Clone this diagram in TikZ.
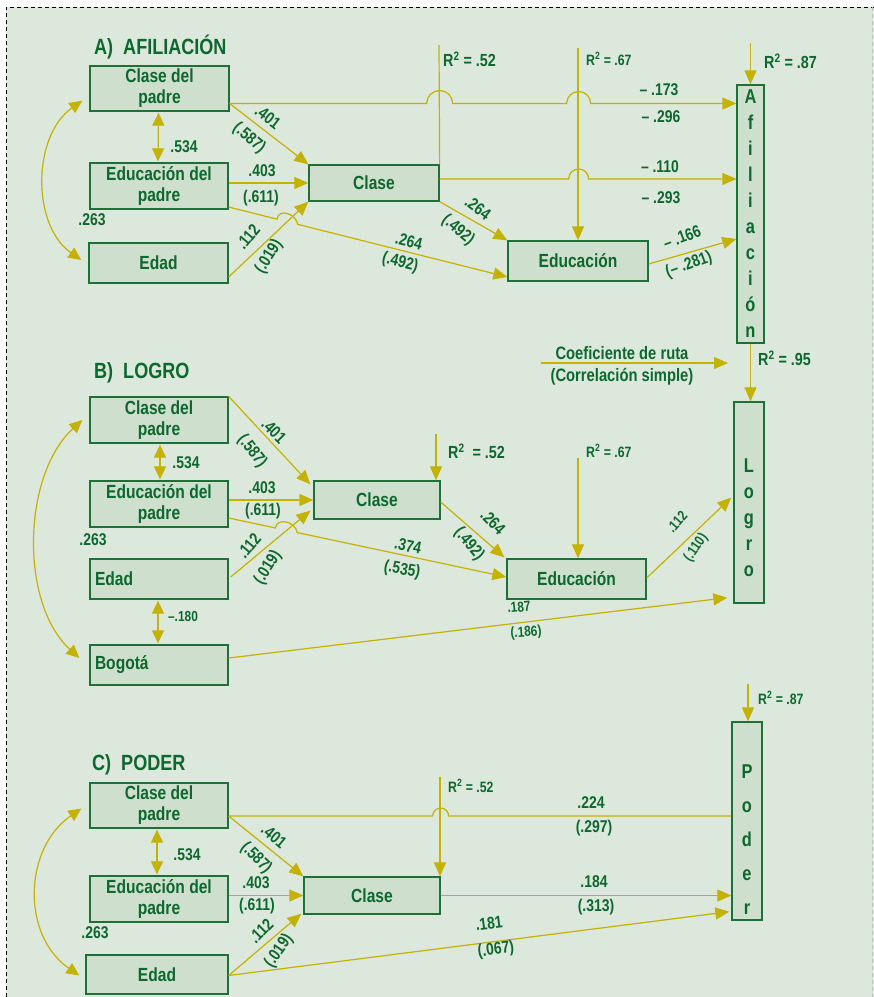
\documentclass[tikz,border=0pt]{standalone}
\usepackage{fontspec}
\setmainfont{Liberation Sans}[FakeStretch=0.82]
\usetikzlibrary{arrows.meta,calc}

\definecolor{bgpanel}{RGB}{221,232,220}
\definecolor{boxfill}{RGB}{207,223,206}
\definecolor{boxline}{RGB}{28,112,56}
\definecolor{txtgreen}{RGB}{12,104,46}
\definecolor{arrowyel}{RGB}{196,178,0}

\newcommand{\boxtxt}{\bfseries\fontsize{19}{21}\selectfont}
\newcommand{\numtxt}{\bfseries\fontsize{17}{18}\selectfont}
\newcommand{\smalltxt}{\bfseries\fontsize{14.5}{16}\selectfont}
\newcommand{\titletxt}{\bfseries\fontsize{22}{24}\selectfont}
\newcommand{\verttxt}{\bfseries\fontsize{20}{26}\selectfont}
\newcommand{\vertwide}{\bfseries\fontsize{20}{34}\selectfont}
\newcommand{\rsqtxt}{\bfseries\fontsize{17.5}{19}\selectfont}
\newcommand{\rsqsmall}{\bfseries\fontsize{15}{16}\selectfont}
\newcommand{\legtxt}{\bfseries\fontsize{18}{19}\selectfont}

\begin{document}
\begin{tikzpicture}[
    x=1pt, y=-1pt,
    box/.style={draw=boxline, fill=boxfill, line width=1.3pt, text=txtgreen, font=\boxtxt, align=center, inner sep=0pt},
    vbox/.style={box, font=\verttxt},
    lbl/.style={text=txtgreen, font=\numtxt, inner sep=0pt},
    slbl/.style={lbl, font=\smalltxt},
    ttl/.style={text=txtgreen, font=\titletxt, anchor=west, inner sep=0pt},
    rsq/.style={lbl, anchor=west},
    link/.style={draw=arrowyel, line width=1.2pt},
    arr/.style={link, -{Triangle[length=14pt,width=12pt]}},
    darr/.style={link, {Triangle[length=13pt,width=12pt]}-{Triangle[length=13pt,width=12pt]}},
  ]
    \useasboundingbox (0,0) rectangle (874,997);
    \fill[bgpanel] (6,7) rectangle (874,997);
    \draw[black, line width=0.8pt, dash pattern=on 4pt off 3pt] (6,997) -- (6,7) -- (874,7);
    \draw[gray!50, line width=0.8pt, dash pattern=on 4pt off 3pt] (872,7) -- (872,997);

    % A) Afiliacion
    \node[ttl] (ta) at (94,47) {A)\ \ AFILIACIÓN};
    \node[box, minimum width=139pt, minimum height=45pt] (acp) at (159.5,88.5) {Clase del\\padre};
    \node[box, minimum width=138pt, minimum height=46pt] (aep) at (159,186) {Educación del\\padre};
    \node[box, minimum width=139pt, minimum height=40pt] (aed) at (158.5,263) {Edad};
    \node[box, minimum width=130pt, minimum height=36pt] (acl) at (374,183) {Clase};
    \node[box, minimum width=140pt, minimum height=40pt] (aeu) at (578,261) {Educación};
    \node[vbox, minimum width=27pt, minimum height=258pt] (aaf) at (750.5,214) {A\\f\\i\\l\\i\\a\\c\\i\\ó\\n};

    \coordinate (a1) at ($(acp.east)+(0,15)$);
    \coordinate (a2) at ($(acl.east)+(0,-4)$);
    \coordinate (a3) at ($(aep.east)+(0,21)$);
    \coordinate (a4) at ($(aeu.west)+(0,16)$);
    \coordinate (ra1) at (439,45);
    \coordinate (ra2) at (578,48);
    \coordinate (ra3) at (750.5,43);
    \draw[link] (ra1) -- (acl.north east);
    \draw[arr] (ra2) -- (aeu.north);
    \draw[arr] (ra3) -- (aaf.north);
    \draw[arr] (a1) -- ++(197,0) arc[start angle=180,end angle=360,radius=13] -- ++(114,0) arc[start angle=180,end angle=360,radius=12] -- (a1 -| aaf.west);
    \draw[arr] (a2) -- ++(129,0) arc[start angle=180,end angle=360,radius=10] -- (a2 -| aaf.west);
    \draw[arr] (a1) -- (acl.north west);
    \draw[arr] (aep.east |- acl.west) -- (acl.west);
    \draw[arr] ($(aed.east)+(0,14)$) -- (acl.south west);
    \draw[arr] (a3) -- ($(a3)!.173!(a4)$) .. controls +(2,-11) and +(-2,-11) .. ($(a3)!.248!(a4)$) -- (a4);
    \draw[arr] (acl.south east) -- (aeu.north west);
    \draw[arr] ($(aeu.east)+(0,3)$) -- ($(aaf.west)+(0,25)$);
    \draw[darr] ($(acp.south)+(-1,1)$) -- ($(aep.north)+(-1,-1)$);
    \draw[darr] ($(acp.south west)+(-7,-11)$) .. controls +(-50,35) and +(-50,-35) .. ($(aed.west)+(-7,-3)$);

    \node[lbl, rotate=-38] (a401) at (268,117) {.401};
    \node[lbl, rotate=-40] (a587) at (249,138) {(.587)};
    \node[lbl] (a534) at (184,147) {.534};
    \node[lbl] (a403) at (262,171) {.403};
    \node[lbl] (a611) at (261,198) {(.611)};
    \node[lbl] (a263) at (92,220) {.263};
    \node[lbl, rotate=50] (a112) at (248,237) {.112};
    \node[lbl, rotate=58] (a019) at (269,257) {(.019)};
    \node[lbl, rotate=-14] (a264) at (409,241) {.264};
    \node[lbl, rotate=-14] (a492) at (400,263) {(.492)};
    \node[lbl, rotate=-37] (a264b) at (478,208) {.264};
    \node[lbl, rotate=-40] (a492b) at (458,230) {(.492)};
    \node[lbl] (a173) at (659,90) {– .173};
    \node[lbl] (a296) at (661,117) {– .296};
    \node[lbl] (a110) at (660,167) {– .110};
    \node[lbl] (a293) at (661,198) {– .293};
    \node[lbl, rotate=20] (a166) at (682,237) {– .166};
    \node[lbl, rotate=20] (a281) at (689,265) {(– .281)};
    \node[rsq, font=\rsqtxt] (ar52) at (443,59) {R\textsuperscript{2} = .52};
    \node[rsq, font=\rsqsmall] (ar67) at (586,59) {R\textsuperscript{2} = .67};
    \node[rsq, font=\rsqtxt] (ar87) at (764,61) {R\textsuperscript{2} = .87};

    \coordinate (lg1) at (541,363);
    \coordinate (lg2) at (728,363);
    \draw[arr] (lg1) -- (lg2);
    \node[lbl, font=\legtxt] (lgt) at (622,353) {Coeficiente de ruta};
    \node[lbl, font=\legtxt] (lgb) at (622,377) {(Correlación simple)};

    % B) Logro
    \node[ttl] (tb) at (94,373) {B)\ \ LOGRO};
    \node[box, minimum width=138pt, minimum height=46pt] (bcp) at (159,420) {Clase del\\padre};
    \node[box, minimum width=138pt, minimum height=46pt] (bep) at (159,504) {Educación del\\padre};
    \node[box, minimum width=138pt, minimum height=40pt, text width=128pt, align=left] (bed) at (159,579) {Edad};
    \node[box, minimum width=138pt, minimum height=40pt, text width=128pt, align=left] (bbo) at (159,665) {Bogotá};
    \node[box, minimum width=126pt, minimum height=38pt] (bcl) at (377,500) {Clase};
    \node[box, minimum width=139pt, minimum height=40pt] (beu) at (576.5,579) {Educación};
    \node[vbox, minimum width=30pt, minimum height=201pt] (blo) at (749,502.5) {\mbox{}\\[18pt]L\\o\\g\\r\\o};

    \coordinate (b3) at ($(bep.east)+(0,14)$);
    \coordinate (b4) at ($(beu.west)+(0,-2)$);
    \coordinate (rb1) at (436,434);
    \coordinate (rb2) at (578,458);
    \draw[arr] (aaf.south) -- (aaf.south |- blo.north);
    \draw[arr] (rb1) -- (rb1 |- bcl.north);
    \draw[arr] (rb2) -- (rb2 |- beu.north);
    \draw[arr] (bcp.north east) -- ($(bcl.north west)+(-3,4)$);
    \draw[arr] (bep.east |- bcl.west) -- (bcl.west);
    \draw[arr] ($(bed.east)+(2,-2)$) -- ($(bcl.south west)+(-3,-9)$);
    \draw[arr] (b3) -- ($(b3)!.168!(b4)$) .. controls +(2,-11) and +(-2,-11) .. ($(b3)!.247!(b4)$) -- (b4);
    \draw[arr] ($(bcl.east)+(0,2)$) -- ($(beu.north west)+(-2,-1)$);
    \draw[arr] ($(beu.east)+(0,-1)$) -- ($(blo.west)+(-2,-5)$);
    \draw[arr] ($(bbo.east)+(0,-7)$) -- ($(blo.south west)+(-6,-6)$);
    \draw[darr] ($(bcp.south)+(1,1)$) -- ($(bep.north)+(1,-1)$);
    \draw[darr] ($(bed.south)+(-1,1)$) -- ($(bbo.north)+(-1,-1)$);
    \draw[darr] ($(bcp.west)+(-7,0)$) .. controls +(-60,55) and +(-60,-55) .. ($(bbo.west)+(-10,-7)$);

    \node[lbl, rotate=-45] (b401) at (274,431) {.401};
    \node[lbl, rotate=-52] (b587) at (252,451) {(.587)};
    \node[lbl] (b534) at (186,463) {.534};
    \node[lbl] (b403) at (262,488) {.403};
    \node[lbl] (b611) at (263,511) {(.611)};
    \node[lbl] (b263) at (93,540) {.263};
    \node[lbl, rotate=50] (b112) at (249,546) {.112};
    \node[lbl, rotate=58] (b019) at (268,568) {(.019)};
    \node[lbl, rotate=-12] (b374) at (408,546) {.374};
    \node[lbl, rotate=-10] (b535) at (402,570) {(.535)};
    \node[lbl, rotate=-45] (b264) at (493,522) {.264};
    \node[lbl, rotate=-50] (b492) at (469,544) {(.492)};
    \node[slbl, rotate=48] (b112b) at (677,522) {.112};
    \node[slbl, rotate=55] (b110) at (696,548) {(.110)};
    \node[slbl, rotate=5] (b187) at (519,607) {.187};
    \node[slbl, rotate=4] (b186) at (526,633) {(.186)};
    \node[slbl] (b180) at (183,616) {–.180};
    \node[rsq, font=\rsqtxt] (br95) at (758,358) {R\textsuperscript{2} = .95};
    \node[rsq, font=\rsqtxt] (br52) at (448,451) {R\textsuperscript{2}\ \ = .52};
    \node[rsq, font=\rsqsmall] (br67) at (586,451) {R\textsuperscript{2} = .67};

    % C) Poder
    \node[ttl] (tc) at (92,765) {C)\ \ PODER};
    \node[box, minimum width=138pt, minimum height=45pt] (ccp) at (159,805.5) {Clase del\\padre};
    \node[box, minimum width=138pt, minimum height=46pt] (cep) at (159,899) {Educación del\\padre};
    \node[box, minimum width=142pt, minimum height=39pt] (ced) at (157,974.5) {Edad};
    \node[box, minimum width=136pt, minimum height=37pt] (ccl) at (372,895.5) {Clase};
    \node[vbox, font=\vertwide, minimum width=30pt, minimum height=198pt] (cpo) at (747,821) {\mbox{}\\[16pt]P\\o\\d\\e\\r};

    \coordinate (c1) at ($(ccp.east)+(0,10.5)$);
    \coordinate (rc1) at (440,777);
    \coordinate (rc2) at (748,684);
    \draw[arr] (rc1) -- (rc1 |- ccl.north);
    \draw[arr] (rc2) -- (rc2 |- cpo.north);
    \draw[link] (c1) -- ++(204,0) arc[start angle=180,end angle=360,radius=8] -- (c1 -| cpo.west);
    \draw[arr] (c1) -- (ccl.north west);
    \draw[arr] (cep.east |- ccl.west) -- (ccl.west);
    \draw[arr] ($(ced.east)+(0,1)$) -- ($(ccl.south west)+(-2,-1)$);
    \draw[arr] (ccl.east) -- (ccl.east -| cpo.west);
    \draw[arr] ($(ced.east)+(0,1)$) -- ($(cpo.south west)+(-2,-9)$);
    \draw[darr] ($(ccp.south)+(-2,1)$) -- ($(cep.north)+(-2,-1)$);
    \draw[darr] ($(ccp.west)+(-8,3)$) .. controls +(-58,40) and +(-58,-40) .. ($(ced.west)+(-6,1)$);

    \node[lbl, rotate=-40] (c401) at (274,836) {.401};
    \node[lbl, rotate=-45] (c587) at (256,858) {(.587)};
    \node[lbl] (c534) at (187,855) {.534};
    \node[lbl] (c403) at (256,883) {.403};
    \node[lbl] (c611) at (257,906) {(.611)};
    \node[lbl] (c263) at (95,933) {.263};
    \node[lbl, rotate=45] (c112) at (261,931) {.112};
    \node[lbl, rotate=55] (c019) at (279,951) {(.019)};
    \node[lbl] (c224) at (591,803) {.224};
    \node[lbl] (c297) at (594,828) {(.297)};
    \node[lbl] (c184) at (594,882) {.184};
    \node[lbl] (c313) at (596,907) {(.313)};
    \node[lbl, rotate=7] (c181) at (489,923) {.181};
    \node[lbl, rotate=7] (c067) at (496,950) {(.067)};
    \node[rsq, font=\rsqsmall] (cr52) at (448,786) {R\textsuperscript{2} = .52};
    \node[rsq, font=\rsqsmall] (cr87) at (758,698) {R\textsuperscript{2} = .87};
  \end{tikzpicture}
\end{document}
